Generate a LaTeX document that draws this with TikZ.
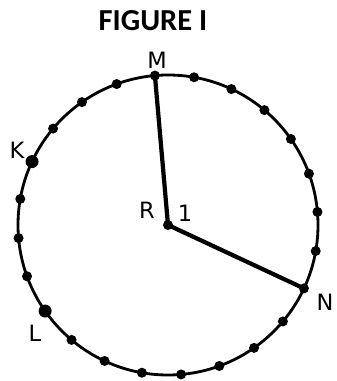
\documentclass[tikz,border=0pt]{standalone}
\usepackage{fontspec}
\setmainfont{DejaVu Sans}
\newfontfamily\titlefont{Carlito}
\usetikzlibrary{calc}

\begin{document}
\begin{tikzpicture}[x=0.025cm, y=0.025cm, font=\fontsize{16}{18}\selectfont]
			\useasboundingbox (-168,-156) rectangle (168,225);
			\node (title) at (-15,204) {\titlefont\bfseries\fontsize{21.7}{24}\selectfont FIGURE I};
			\coordinate (R) at (0,0);
			\coordinate (M) at (95:150);
			\coordinate (N) at (-25:150);
			\coordinate (K) at (155:150);
			\coordinate (L) at (215:150);
			\draw[line width=2pt] (R) circle (150);
			\foreach \k in {0,...,23}
				\fill ($(R)+(95-15*\k:150)$) circle (5);
			\fill (K) circle (6.5);
			\fill (L) circle (6.5);
			\draw[line width=3pt, line join=round] (M) -- (R) -- (N);
			\fill (R) circle (5);
			\node at (-11,165) {M};
			\node at (-151,75) {K};
			\node at (-21,15) {R};
			\node at (17,12) {1};
			\node at (157,-77) {N};
			\node at (-133,-108) {L};
		\end{tikzpicture}
\end{document}
